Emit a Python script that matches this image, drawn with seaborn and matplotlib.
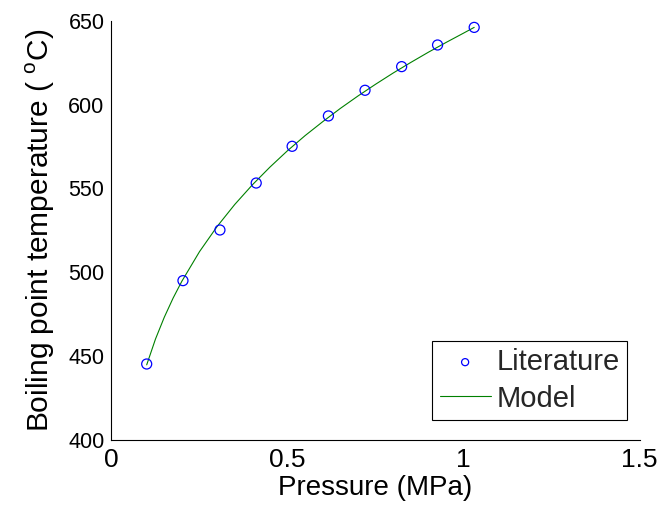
import matplotlib
matplotlib.use("Agg")
import matplotlib.pyplot as plt
import seaborn as sns
import pandas as pd

# Literature boiling points
lit_pressure = [0.100, 0.203, 0.308, 0.411, 0.513, 0.616, 0.720, 0.824, 0.926, 1.030]
lit_temp = [445.3, 495.0, 525.2, 553.2, 575.1, 593.2, 608.5, 622.6, 635.5, 646.0]

# Model curve
model_pressure = [0.100, 0.125, 0.150, 0.175, 0.200, 0.250, 0.300, 0.350, 0.400, 0.450,
                  0.500, 0.550, 0.600, 0.650, 0.700, 0.750, 0.800, 0.850, 0.900, 0.950,
                  1.000, 1.030]
model_temp = [444.8, 460.2, 473.2, 484.6, 494.7, 512.3, 527.3, 540.4, 552.1, 562.7,
              572.5, 581.5, 589.8, 597.7, 605.1, 612.1, 618.8, 625.1, 631.2, 637.0,
              642.6, 646.0]

x_ticks = [0, 0.5, 1, 1.5]
x_tick_labels = ["0", "0.5", "1", "1.5"]
y_ticks = [400, 450, 500, 550, 600, 650]

lit = pd.DataFrame({"Pressure": lit_pressure, "Temperature": lit_temp})
model = pd.DataFrame({"Pressure": model_pressure, "Temperature": model_temp})

sns.set_style("white")
plt.rcParams["font.family"] = ["Liberation Sans", "DejaVu Sans"]
plt.rcParams["mathtext.fontset"] = "custom"
plt.rcParams["mathtext.rm"] = "Liberation Sans"

fig = plt.figure(figsize=(6.62, 5.08), dpi=100)
ax = fig.add_axes([0.1684, 0.1339, 0.7979, 0.8254])

sns.scatterplot(data=lit, x="Pressure", y="Temperature", ax=ax,
                marker="o", s=52, facecolor="none", edgecolor="#0000ff",
                linewidth=0.9, label="Literature", zorder=3)
sns.lineplot(data=model, x="Pressure", y="Temperature", ax=ax,
             color="#008000", linewidth=0.8, label="Model", zorder=2)

ax.set_xlim(0, 1.5)
ax.set_ylim(400, 650)
ax.set_xticks(x_ticks)
ax.set_xticklabels(x_tick_labels)
ax.set_yticks(y_ticks)

for side in ["top", "right"]:
    ax.spines[side].set_visible(False)
for side in ["left", "bottom"]:
    ax.spines[side].set_color("black")
    ax.spines[side].set_linewidth(0.8)

ax.tick_params(axis="both", direction="in", length=5, width=0.8,
               color="black", labelcolor="black")
ax.tick_params(axis="x", pad=6, labelsize=19)
ax.tick_params(axis="y", pad=5, labelsize=15.5)

ax.set_xlabel("Pressure (MPa)", fontsize=20, color="black", labelpad=2)
ax.set_ylabel("Boiling point temperature ( $^\\mathregular{o}$C)", fontsize=21.5,
              color="black", labelpad=8)

leg = ax.legend(loc="lower right", bbox_to_anchor=(0.976, 0.048),
                borderaxespad=0, fontsize=21, frameon=True, fancybox=False,
                edgecolor="black", framealpha=1, handlelength=1.75,
                handletextpad=0.2, borderpad=0.25, labelspacing=0.3)
leg.get_frame().set_linewidth(0.8)
leg.legend_handles[0].set_sizes([26])

fig.savefig("out.png", dpi=100, facecolor="white")
